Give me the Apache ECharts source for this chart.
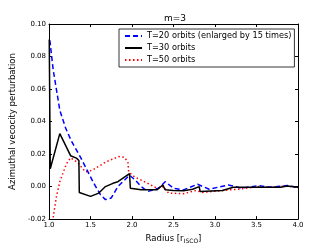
<!DOCTYPE html>
<html><head><meta charset="utf-8">
<script src="https://cdn.jsdelivr.net/npm/echarts@6/dist/echarts.min.js"></script>
<style>html,body{margin:0;padding:0;background:#fff}#c{width:332px;height:249px}</style>
</head><body><div id="c"></div>
<script>
var seriesNames = ['T=20 orbits (enlarged by 15 times)', 'T=30 orbits', 'T=50 orbits'];
var xTicks = [1.0, 1.5, 2.0, 2.5, 3.0, 3.5, 4.0];
var yTicks = [-0.02, 0.00, 0.02, 0.04, 0.06, 0.08, 0.10];

var r20 = [1.01,1.05,1.13,1.2,1.27,1.38,1.46,1.54,1.62,1.68,1.75,1.83,1.97,2.04,2.11,2.19,2.32,2.40,2.5,2.62,2.79,2.93,3.16,3.32,3.52,3.67,3.87,4.0];
var v20 = [0.09,0.072,0.047,0.036,0.028,0.018,0.01,0.002,-0.005,-0.008,-0.007,0.0,0.007,0.004,0.0,-0.003,-0.001,0.003,-0.001,-0.002,0.0014,-0.0016,0.001,-0.001,0.0006,-0.0004,0.0006,-0.0004];

var r30 = [1.003,1.015,1.13,1.26,1.33,1.36,1.365,1.5,1.6,1.68,1.77,1.83,1.97,1.98,2.11,2.3,2.37,2.39,2.40,2.5,2.62,2.73,2.81,2.82,3.09,3.22,3.24,3.52,3.79,3.87,4.0];
var v30 = [0.0905,0.011,0.0326,0.019,0.0175,0.016,-0.0036,-0.006,-0.004,0.0,0.002,0.003,0.008,-0.001,-0.002,-0.002,0.001,0.0015,-0.002,-0.0024,-0.0025,-0.0016,0.0,-0.003,-0.0024,-0.0004,-0.0015,-0.0004,-0.0004,0.0004,-0.0004];

var r50 = [1.05,1.09,1.13,1.21,1.26,1.34,1.44,1.52,1.68,1.77,1.84,1.91,1.95,1.96,2.03,2.19,2.3,2.38,2.44,2.62,2.77,2.85,3.09,3.28,3.52,3.67,3.87,4.0];
var v50 = [-0.019,-0.006,0.003,0.014,0.0177,0.015,0.009,0.010,0.015,0.017,0.0185,0.018,0.015,0.009,0.006,0.002,-0.001,0.0,-0.004,-0.0044,-0.0024,-0.0036,-0.0024,-0.0016,0.0,-0.0004,0.0004,-0.0008];

function zip(a, b) { return a.map(function (x, i) { return [x, b[i]]; }); }

var F = 'DejaVu Sans';
var chart = echarts.init(document.getElementById('c'), null, {renderer: 'canvas'});
var axisCommon = {
  axisLine: {onZero: false, lineStyle: {color: '#000', width: 1}},
  axisTick: {inside: true, length: 3, lineStyle: {color: '#000'}},
  splitLine: {show: false}
};
chart.setOption({
  animation: false,
  title: {text: 'm=3', left: 170, top: 9, textAlign: 'center',
    textStyle: {fontFamily: F, fontSize: 9, fontWeight: 'normal', color: '#000'}},
  grid: {left: 42, right: 34, top: 24, bottom: 26},
  legend: {
    orient: 'vertical', left: 119, top: 29, right: 'auto',
    padding: [3, 3, 3, 5], itemGap: 4, itemWidth: 17, itemHeight: 8,
    borderColor: '#000', borderWidth: 0.8, backgroundColor: '#fff',
    itemStyle: {opacity: 0},
    textStyle: {fontFamily: F, fontSize: 8.2, color: '#000', padding: [0, 0, 0, 0]},
    data: seriesNames
  },
  xAxis: [
    Object.assign({type: 'value', min: 1.0, max: 4.0, interval: 0.5, position: 'bottom',
      name: 'Radius [r{sub|ISCO}]', nameLocation: 'middle', nameGap: 13,
      nameTextStyle: {fontFamily: F, fontSize: 8.5, color: '#000',
        rich: {sub: {fontFamily: F, fontSize: 6, verticalAlign: 'bottom', padding: [5, 0, 0, 0], color: '#000'}}},
      axisLabel: {fontFamily: F, fontSize: 7, color: '#000', margin: 3,
        formatter: function (v) { return xTicks.indexOf(v) >= 0 ? v.toFixed(1) : ''; }}
    }, axisCommon),
    Object.assign({type: 'value', min: 1.0, max: 4.0, interval: 0.5, position: 'top',
      axisLabel: {show: false}}, axisCommon)
  ],
  yAxis: [
    Object.assign({type: 'value', min: -0.02, max: 0.10, interval: 0.02, position: 'left',
      name: 'Azimuthal vecocity perturbation', nameLocation: 'middle', nameGap: 31,
      nameTextStyle: {fontFamily: F, fontSize: 8.5, color: '#000'},
      axisLabel: {fontFamily: F, fontSize: 7, color: '#000', margin: 3,
        formatter: function (v) { return v.toFixed(2); }}
    }, axisCommon),
    Object.assign({type: 'value', min: -0.02, max: 0.10, interval: 0.02, position: 'right',
      axisLabel: {show: false}}, axisCommon)
  ],
  series: [
    {name: seriesNames[0], type: 'line', data: zip(r20, v20), symbol: 'none', smooth: false,
      lineStyle: {color: '#0000ff', width: 1.5, type: [5, 3]}, itemStyle: {color: '#0000ff'}, z: 3},
    {name: seriesNames[1], type: 'line', data: zip(r30, v30), symbol: 'none',
      lineStyle: {color: '#000000', width: 1.5, type: 'solid'}, itemStyle: {color: '#000'}, z: 4},
    {name: seriesNames[2], type: 'line', data: zip(r50, v50), symbol: 'none',
      lineStyle: {color: '#ff0000', width: 1.5, type: [1.5, 2.5]}, itemStyle: {color: '#ff0000'}, z: 2}
  ]
});
</script></body></html>
